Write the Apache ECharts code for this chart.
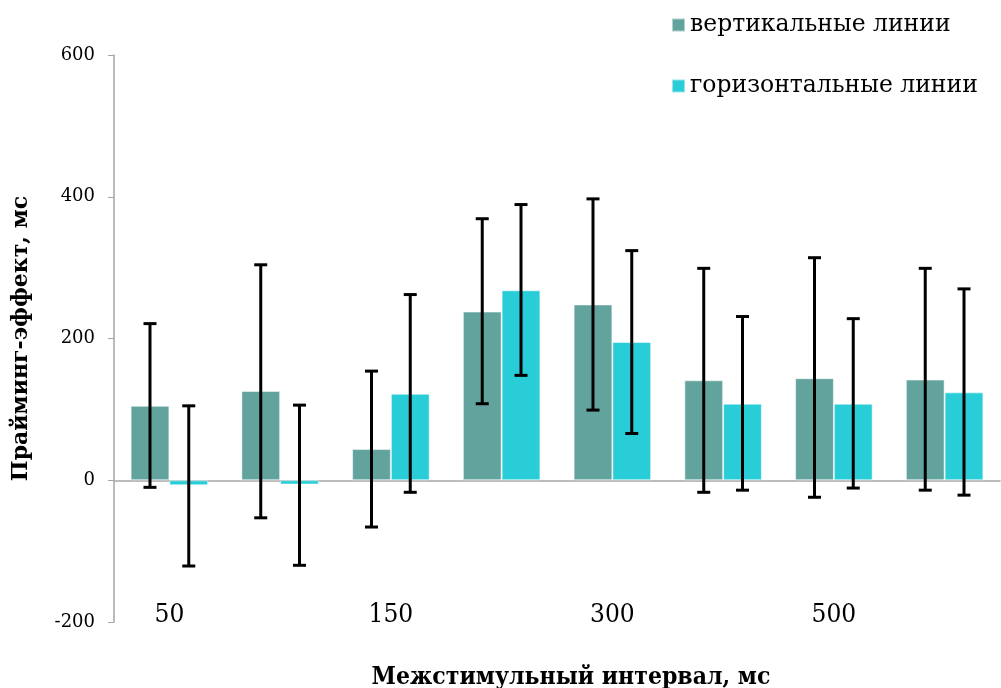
<!DOCTYPE html>
<html><head><meta charset="utf-8">
<script src="https://cdn.jsdelivr.net/npm/echarts@6/dist/echarts.min.js"></script>
<style>html,body{margin:0;padding:0;background:#fff}#c{width:1001px;height:688px}</style>
</head><body><div id="c"></div>
<script>
const categories = ['50','100','150','200','300','400','500','600'];
const seriesNames = ['вертикальные линии','горизонтальные линии'];
const vertical = [105, 126, 44, 238, 248, 141, 144, 142];
const verticalHigh = [221, 304, 154, 369, 397, 299, 314, 299];
const verticalLow = [-10, -53, -66, 108, 99, -17, -24, -14];
const horizontal = [-7, -6, 122, 268, 195, 108, 108, 124];
const horizontalHigh = [105, 106, 262, 389, 324, 231, 228, 270];
const horizontalLow = [-121, -120, -17, 148, 66, -14, -11, -21];
const yTicks = [-200, 0, 200, 400, 600];

const colors = ['#63A39E', '#29CDD7'];
const catGap = 0.30;

function errSeries(high, low, side) {
  return {
    type: 'custom',
    z: 10,
    silent: true,
    data: categories.map((c, i) => [i, low[i], high[i]]),
    renderItem: function (params, api) {
      const i = api.value(0);
      const band = api.size([1, 0])[0];
      const bw = band * (1 - catGap) / 2;
      const lo = api.coord([i, api.value(1)]);
      const hi = api.coord([i, api.value(2)]);
      const x = lo[0] + side * bw / 2;
      const cap = 6.5;
      const st = {stroke: '#000', lineWidth: 3};
      return {type: 'group', children: [
        {type: 'line', shape: {x1: x, y1: hi[1], x2: x, y2: lo[1]}, style: st},
        {type: 'line', shape: {x1: x - cap, y1: hi[1], x2: x + cap, y2: hi[1]}, style: st},
        {type: 'line', shape: {x1: x - cap, y1: lo[1], x2: x + cap, y2: lo[1]}, style: st}
      ]};
    }
  };
}

const chart = echarts.init(document.getElementById('c'));
chart.setOption({
  animation: false,
  grid: {left: 114, right: 1, top: 55, bottom: 66, containLabel: false, outerBoundsMode: 'none'},
  legend: {
    orient: 'vertical', left: 666, top: 8,
    itemWidth: 13, itemHeight: 13, itemGap: 37,
    icon: 'rect',
    textStyle: {fontFamily: 'DejaVu Serif', fontSize: 23.5, color: '#000', lineHeight: 24},
    data: seriesNames
  },
  xAxis: {
    type: 'category', data: categories,
    axisLine: {onZero: true, lineStyle: {color: '#A6A6A6', width: 1.5}},
    axisTick: {show: false},
    axisLabel: {interval: 1, margin: -20, color: '#000', fontFamily: 'DejaVu Serif Condensed, DejaVu Serif', fontSize: 26},
    name: 'Межстимульный интервал, мс', nameLocation: 'middle', nameGap: 43,
    nameTextStyle: {fontFamily: 'DejaVu Serif Condensed, DejaVu Serif', fontWeight: 'bold', fontSize: 24.5, color: '#000', padding: [0, 0, 0, 28]}
  },
  yAxis: {
    type: 'value', min: -200, max: 600, interval: 200,
    splitLine: {show: false},
    axisLine: {show: true, lineStyle: {color: '#A6A6A6', width: 1.5}},
    axisTick: {show: true, length: 6, lineStyle: {color: '#A6A6A6'}},
    axisLabel: {color: '#000', fontFamily: 'DejaVu Serif', fontSize: 18, margin: 19,
      formatter: v => yTicks.includes(v) ? String(v) : ''},
    name: 'Прайминг-эффект, мс', nameLocation: 'middle', nameGap: 82,
    nameTextStyle: {fontFamily: 'DejaVu Serif', fontWeight: 'bold', fontSize: 22, color: '#000'}
  },
  series: [
    {name: seriesNames[0], type: 'bar', data: vertical, barGap: '0%', barCategoryGap: (catGap * 100) + '%',
      itemStyle: {color: colors[0], borderColor: 'rgba(255,255,255,0.5)', borderWidth: 1}},
    {name: seriesNames[1], type: 'bar', data: horizontal, barGap: '0%', barCategoryGap: (catGap * 100) + '%',
      itemStyle: {color: colors[1], borderColor: 'rgba(255,255,255,0.5)', borderWidth: 1}},
    errSeries(verticalHigh, verticalLow, -1),
    errSeries(horizontalHigh, horizontalLow, 1)
  ]
});
</script></body></html>
